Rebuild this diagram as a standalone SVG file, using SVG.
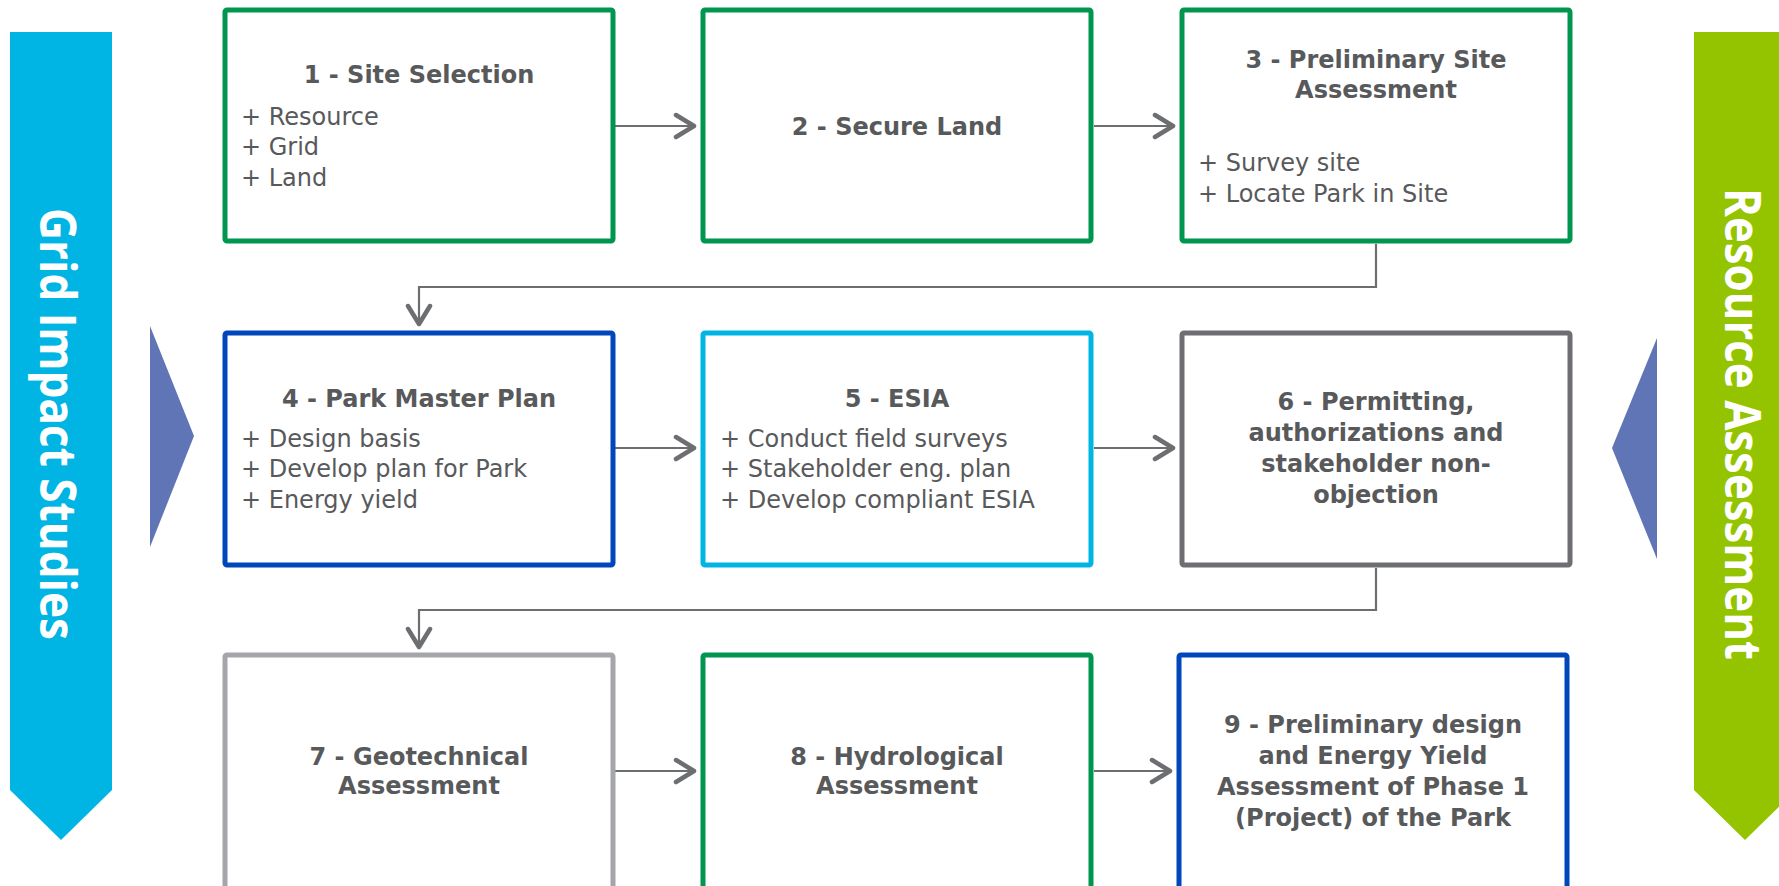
<svg xmlns="http://www.w3.org/2000/svg" width="1779" height="886" viewBox="0 0 1779 886">
<style>
.box{fill:#fff;stroke-width:5;stroke-linejoin:round}
.g{stroke:#00964F}.b{stroke:#0047BB}.c{stroke:#00B4E4}.dg{stroke:#6D6E71}.lg{stroke:#A4A6A9}
.t{font-family:"DejaVu Sans",Verdana,sans-serif;font-size:24px;fill:#58595B}
.h{font-weight:bold;text-anchor:middle}
.ban{font-family:"Open Sans","Noto Sans",sans-serif;font-weight:bold;font-size:50px;fill:#fff}
.con{fill:none;stroke:#6D6E71;stroke-width:2.2}
</style>
<defs>
<marker id="ah" markerUnits="userSpaceOnUse" viewBox="0 0 26 28" refX="22" refY="14" markerWidth="26" markerHeight="28" orient="auto">
<path d="M4,3 L22,14 L4,25" fill="none" stroke="#6D6E71" stroke-width="4.5" stroke-linecap="round" stroke-linejoin="round"/>
</marker>
</defs>
<rect width="1779" height="886" fill="#fff"/>
<g id="banner-left">
<polygon points="10,32 112,32 112,790 61,840 10,790" fill="#00B4E4"/>
<text class="ban" transform="translate(40,424) rotate(90)" text-anchor="middle" textLength="432" lengthAdjust="spacingAndGlyphs">Grid Impact Studies</text>
</g>
<g id="banner-right">
<polygon points="1694,32 1796,32 1796,790 1745,840 1694,790" fill="#94C400"/>
<text class="ban" transform="translate(1725,424) rotate(90)" text-anchor="middle" textLength="472" lengthAdjust="spacingAndGlyphs">Resource Assessment</text>
</g>
<g id="triangle-left"><polygon points="150,326 194,436 150,547" fill="#6075B5"/></g>
<g id="triangle-right"><polygon points="1657,338 1612,448 1657,559" fill="#6075B5"/></g>
<g id="connectors">
<path class="con" d="M615,126 H694" marker-end="url(#ah)"/>
<path class="con" d="M1094,126 H1173" marker-end="url(#ah)"/>
<path class="con" d="M1376,244 V287 H419 V324" marker-end="url(#ah)"/>
<path class="con" d="M615,448 H694" marker-end="url(#ah)"/>
<path class="con" d="M1094,448 H1173" marker-end="url(#ah)"/>
<path class="con" d="M1376,568 V610 H419 V647" marker-end="url(#ah)"/>
<path class="con" d="M615,771 H694" marker-end="url(#ah)"/>
<path class="con" d="M1094,771 H1170" marker-end="url(#ah)"/>
</g>
<g id="node1">
<rect class="box g" x="225" y="10" width="388" height="231" rx="2"/>
<text class="t h" x="419" y="83">1 - Site Selection</text>
<text class="t" x="241" y="125">+ Resource</text>
<text class="t" x="241" y="155">+ Grid</text>
<text class="t" x="241" y="186">+ Land</text>
</g>
<g id="node2">
<rect class="box g" x="703" y="10" width="388" height="231" rx="2"/>
<text class="t h" x="897" y="135">2 - Secure Land</text>
</g>
<g id="node3">
<rect class="box g" x="1182" y="10" width="388" height="231" rx="2"/>
<text class="t h" x="1376" y="68">3 - Preliminary Site</text>
<text class="t h" x="1376" y="98">Assessment</text>
<text class="t" x="1198" y="171">+ Survey site</text>
<text class="t" x="1198" y="202">+ Locate Park in Site</text>
</g>
<g id="node4">
<rect class="box b" x="225" y="333" width="388" height="232" rx="2"/>
<text class="t h" x="419" y="407">4 - Park Master Plan</text>
<text class="t" x="241" y="447">+ Design basis</text>
<text class="t" x="241" y="477">+ Develop plan for Park</text>
<text class="t" x="241" y="508">+ Energy yield</text>
</g>
<g id="node5">
<rect class="box c" x="703" y="333" width="388" height="232" rx="2"/>
<text class="t h" x="897" y="407">5 - ESIA</text>
<text class="t" x="720" y="447">+ Conduct field surveys</text>
<text class="t" x="720" y="477">+ Stakeholder eng. plan</text>
<text class="t" x="720" y="508">+ Develop compliant ESIA</text>
</g>
<g id="node6">
<rect class="box dg" x="1182" y="333" width="388" height="232" rx="2"/>
<text class="t h" x="1376" y="410">6 - Permitting,</text>
<text class="t h" x="1376" y="441">authorizations and</text>
<text class="t h" x="1376" y="472">stakeholder non-</text>
<text class="t h" x="1376" y="503">objection</text>
</g>
<g id="node7">
<rect class="box lg" x="225" y="655" width="388" height="240" rx="2"/>
<text class="t h" x="419" y="765">7 - Geotechnical</text>
<text class="t h" x="419" y="794">Assessment</text>
</g>
<g id="node8">
<rect class="box g" x="703" y="655" width="388" height="240" rx="2"/>
<text class="t h" x="897" y="765">8 - Hydrological</text>
<text class="t h" x="897" y="794">Assessment</text>
</g>
<g id="node9">
<rect class="box b" x="1179" y="655" width="388" height="240" rx="2"/>
<text class="t h" x="1373" y="733">9 - Preliminary design</text>
<text class="t h" x="1373" y="764">and Energy Yield</text>
<text class="t h" x="1373" y="795">Assessment of Phase 1</text>
<text class="t h" x="1373" y="826">(Project) of the Park</text>
</g>
</svg>
